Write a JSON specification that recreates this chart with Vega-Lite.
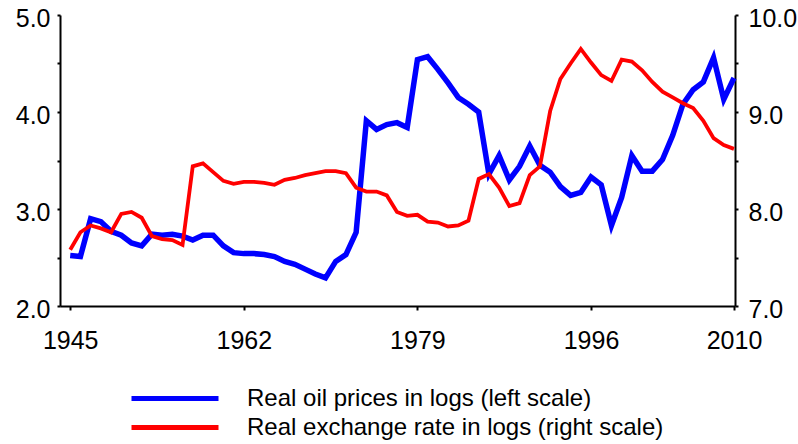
{
  "$schema": "https://vega.github.io/schema/vega-lite/v6.json",
  "width": 675,
  "height": 291,
  "autosize": {"type": "none"},
  "padding": {"left": 60, "top": 15, "right": 63, "bottom": 138},
  "background": "white",
  "config": {
    "font": "Liberation Sans",
    "view": {"stroke": null},
    "axis": {"domainColor": "black", "domainWidth": 2, "tickColor": "black", "tickWidth": 2, "grid": false, "labelColor": "black", "labelFontSize": 25, "labelFont": "Liberation Sans", "labelOverlap": false, "labelBound": false, "labelFlush": false, "title": null},
    "legend": {"title": null, "orient": "none", "direction": "vertical", "symbolType": "stroke", "symbolSize": 7569, "symbolStrokeWidth": 5, "labelFontSize": 24, "labelFont": "Liberation Sans", "labelColor": "black", "labelOffset": 26, "labelLimit": 0}
  },
  "data": {
    "values": [
      {"year":1945,"series":"oil","value":2.52},{"year":1946,"series":"oil","value":2.51},{"year":1947,"series":"oil","value":2.90},{"year":1948,"series":"oil","value":2.87},{"year":1949,"series":"oil","value":2.77},{"year":1950,"series":"oil","value":2.73},{"year":1951,"series":"oil","value":2.65},{"year":1952,"series":"oil","value":2.62},{"year":1953,"series":"oil","value":2.74},{"year":1954,"series":"oil","value":2.73},{"year":1955,"series":"oil","value":2.74},{"year":1956,"series":"oil","value":2.72},{"year":1957,"series":"oil","value":2.68},{"year":1958,"series":"oil","value":2.73},{"year":1959,"series":"oil","value":2.73},{"year":1960,"series":"oil","value":2.62},{"year":1961,"series":"oil","value":2.55},{"year":1962,"series":"oil","value":2.54},{"year":1963,"series":"oil","value":2.54},{"year":1964,"series":"oil","value":2.53},{"year":1965,"series":"oil","value":2.51},{"year":1966,"series":"oil","value":2.46},{"year":1967,"series":"oil","value":2.43},{"year":1968,"series":"oil","value":2.38},{"year":1969,"series":"oil","value":2.33},{"year":1970,"series":"oil","value":2.29},{"year":1971,"series":"oil","value":2.46},{"year":1972,"series":"oil","value":2.53},{"year":1973,"series":"oil","value":2.76},{"year":1974,"series":"oil","value":3.91},{"year":1975,"series":"oil","value":3.82},{"year":1976,"series":"oil","value":3.87},{"year":1977,"series":"oil","value":3.89},{"year":1978,"series":"oil","value":3.84},{"year":1979,"series":"oil","value":4.54},{"year":1980,"series":"oil","value":4.57},{"year":1981,"series":"oil","value":4.44},{"year":1982,"series":"oil","value":4.30},{"year":1983,"series":"oil","value":4.15},{"year":1984,"series":"oil","value":4.08},{"year":1985,"series":"oil","value":4.00},{"year":1986,"series":"oil","value":3.36},{"year":1987,"series":"oil","value":3.55},{"year":1988,"series":"oil","value":3.30},{"year":1989,"series":"oil","value":3.44},{"year":1990,"series":"oil","value":3.65},{"year":1991,"series":"oil","value":3.45},{"year":1992,"series":"oil","value":3.38},{"year":1993,"series":"oil","value":3.23},{"year":1994,"series":"oil","value":3.14},{"year":1995,"series":"oil","value":3.17},{"year":1996,"series":"oil","value":3.33},{"year":1997,"series":"oil","value":3.25},{"year":1998,"series":"oil","value":2.83},{"year":1999,"series":"oil","value":3.12},{"year":2000,"series":"oil","value":3.55},{"year":2001,"series":"oil","value":3.39},{"year":2002,"series":"oil","value":3.39},{"year":2003,"series":"oil","value":3.51},{"year":2004,"series":"oil","value":3.76},{"year":2005,"series":"oil","value":4.08},{"year":2006,"series":"oil","value":4.23},{"year":2007,"series":"oil","value":4.31},{"year":2008,"series":"oil","value":4.56},{"year":2009,"series":"oil","value":4.13},{"year":2010,"series":"oil","value":4.35},
      {"year":1945,"series":"rer","value":7.58},{"year":1946,"series":"rer","value":7.76},{"year":1947,"series":"rer","value":7.83},{"year":1948,"series":"rer","value":7.80},{"year":1949,"series":"rer","value":7.76},{"year":1950,"series":"rer","value":7.95},{"year":1951,"series":"rer","value":7.97},{"year":1952,"series":"rer","value":7.91},{"year":1953,"series":"rer","value":7.72},{"year":1954,"series":"rer","value":7.69},{"year":1955,"series":"rer","value":7.68},{"year":1956,"series":"rer","value":7.63},{"year":1957,"series":"rer","value":8.44},{"year":1958,"series":"rer","value":8.47},{"year":1959,"series":"rer","value":8.38},{"year":1960,"series":"rer","value":8.29},{"year":1961,"series":"rer","value":8.26},{"year":1962,"series":"rer","value":8.28},{"year":1963,"series":"rer","value":8.28},{"year":1964,"series":"rer","value":8.27},{"year":1965,"series":"rer","value":8.25},{"year":1966,"series":"rer","value":8.30},{"year":1967,"series":"rer","value":8.32},{"year":1968,"series":"rer","value":8.35},{"year":1969,"series":"rer","value":8.37},{"year":1970,"series":"rer","value":8.39},{"year":1971,"series":"rer","value":8.39},{"year":1972,"series":"rer","value":8.37},{"year":1973,"series":"rer","value":8.22},{"year":1974,"series":"rer","value":8.18},{"year":1975,"series":"rer","value":8.18},{"year":1976,"series":"rer","value":8.14},{"year":1977,"series":"rer","value":7.97},{"year":1978,"series":"rer","value":7.93},{"year":1979,"series":"rer","value":7.94},{"year":1980,"series":"rer","value":7.87},{"year":1981,"series":"rer","value":7.86},{"year":1982,"series":"rer","value":7.82},{"year":1983,"series":"rer","value":7.83},{"year":1984,"series":"rer","value":7.88},{"year":1985,"series":"rer","value":8.31},{"year":1986,"series":"rer","value":8.36},{"year":1987,"series":"rer","value":8.22},{"year":1988,"series":"rer","value":8.03},{"year":1989,"series":"rer","value":8.06},{"year":1990,"series":"rer","value":8.35},{"year":1991,"series":"rer","value":8.44},{"year":1992,"series":"rer","value":9.01},{"year":1993,"series":"rer","value":9.34},{"year":1994,"series":"rer","value":9.50},{"year":1995,"series":"rer","value":9.65},{"year":1996,"series":"rer","value":9.51},{"year":1997,"series":"rer","value":9.38},{"year":1998,"series":"rer","value":9.32},{"year":1999,"series":"rer","value":9.54},{"year":2000,"series":"rer","value":9.52},{"year":2001,"series":"rer","value":9.43},{"year":2002,"series":"rer","value":9.31},{"year":2003,"series":"rer","value":9.21},{"year":2004,"series":"rer","value":9.15},{"year":2005,"series":"rer","value":9.09},{"year":2006,"series":"rer","value":9.04},{"year":2007,"series":"rer","value":8.91},{"year":2008,"series":"rer","value":8.73},{"year":2009,"series":"rer","value":8.66},{"year":2010,"series":"rer","value":8.62}
    ]
  },
  "encoding": {
    "x": {
      "field": "year",
      "type": "quantitative",
      "scale": {"domain": [1944, 2010.1], "nice": false, "zero": false},
      "axis": {"values": [1945, 1962, 1979, 1996, 2010], "format": "d", "tickSize": 4, "labelPadding": 38, "labelBaseline": "alphabetic"}
    }
  },
  "layer": [
    {
      "transform": [{"filter": "datum.series === 'oil'"}],
      "mark": {"type": "line", "strokeWidth": 5.5, "clip": false},
      "encoding": {
        "y": {
          "field": "value",
          "type": "quantitative",
          "scale": {"domain": [2, 5], "nice": false, "zero": false},
          "axis": {"orient": "left", "values": [2, 2.5, 3, 3.5, 4, 4.5, 5], "labelExpr": "datum.value % 1 === 0 ? format(datum.value, '.1f') : ''", "tickSize": 3, "labelPadding": 7, "labelOffset": 3}
        },
        "stroke": {
          "field": "series",
          "type": "nominal",
          "scale": {"domain": ["oil"], "range": ["#0000ff"]},
          "legend": {"legendX": 69, "legendY": 337.5, "labelExpr": "'Real oil prices in logs (left scale)'"}
        }
      }
    },
    {
      "transform": [{"filter": "datum.series === 'rer'"}],
      "mark": {"type": "line", "strokeWidth": 3.8, "clip": false},
      "encoding": {
        "y": {
          "field": "value",
          "type": "quantitative",
          "scale": {"domain": [7, 10], "nice": false, "zero": false},
          "axis": {"orient": "right", "values": [7, 7.5, 8, 8.5, 9, 9.5, 10], "labelExpr": "datum.value % 1 === 0 ? format(datum.value, '.1f') : ''", "tickSize": 3, "labelPadding": 10, "labelOffset": 3}
        },
        "color": {
          "field": "series",
          "type": "nominal",
          "scale": {"domain": ["rer"], "range": ["#ff0000"]},
          "legend": {"legendX": 69, "legendY": 366.5, "labelExpr": "'Real exchange rate in logs (right scale)'"}
        }
      }
    }
  ],
  "resolve": {"scale": {"y": "independent"}}
}
